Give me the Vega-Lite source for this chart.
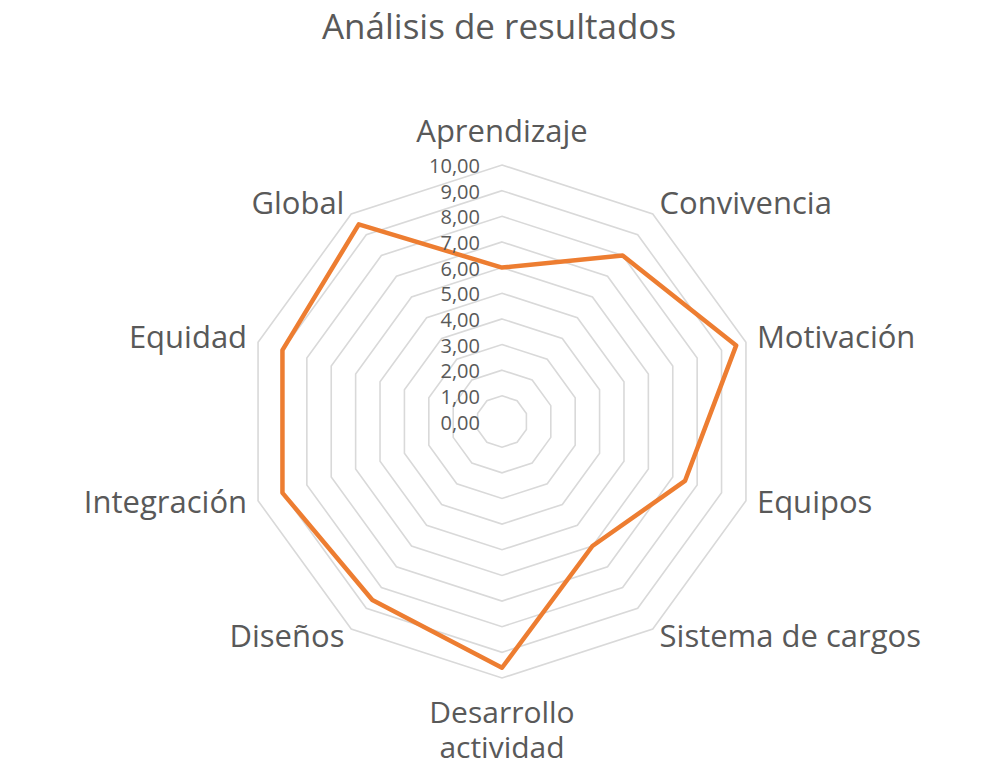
{
  "$schema": "https://vega.github.io/schema/vega-lite/v6.json",
  "width": 998,
  "height": 709,
  "autosize": {"type": "none"},
  "padding": {"left": 0, "right": 0, "top": 60, "bottom": 0},
  "background": "white",
  "config": {
    "view": {"stroke": null},
    "font": "Open Sans",
    "locale": {"number": {"decimal": ",", "thousands": ".", "grouping": [3], "currency": ["", " €"]}}
  },
  "title": {
    "text": "Análisis de resultados",
    "fontSize": 35,
    "font": "Open Sans",
    "fontWeight": "normal",
    "color": "#595959",
    "anchor": "middle",
    "offset": 14
  },
  "datasets": {
    "series": [
      {"idx": 0, "categoria": "Aprendizaje", "valor": 6.0},
      {"idx": 1, "categoria": "Convivencia", "valor": 8.0},
      {"idx": 2, "categoria": "Motivación", "valor": 9.6},
      {"idx": 3, "categoria": "Equipos", "valor": 7.5},
      {"idx": 4, "categoria": "Sistema de cargos", "valor": 6.0},
      {"idx": 5, "categoria": "Desarrollo actividad", "valor": 9.6},
      {"idx": 6, "categoria": "Diseños", "valor": 8.6},
      {"idx": 7, "categoria": "Integración", "valor": 9.0},
      {"idx": 8, "categoria": "Equidad", "valor": 9.0},
      {"idx": 9, "categoria": "Global", "valor": 9.5}
    ],
    "rings": [
      {"level": 1, "k": [0,1,2,3,4,5,6,7,8,9]},
      {"level": 2, "k": [0,1,2,3,4,5,6,7,8,9]},
      {"level": 3, "k": [0,1,2,3,4,5,6,7,8,9]},
      {"level": 4, "k": [0,1,2,3,4,5,6,7,8,9]},
      {"level": 5, "k": [0,1,2,3,4,5,6,7,8,9]},
      {"level": 6, "k": [0,1,2,3,4,5,6,7,8,9]},
      {"level": 7, "k": [0,1,2,3,4,5,6,7,8,9]},
      {"level": 8, "k": [0,1,2,3,4,5,6,7,8,9]},
      {"level": 9, "k": [0,1,2,3,4,5,6,7,8,9]},
      {"level": 10, "k": [0,1,2,3,4,5,6,7,8,9]}
    ],
    "ticks": [
      {"level": 0}, {"level": 1}, {"level": 2}, {"level": 3}, {"level": 4}, {"level": 5},
      {"level": 6}, {"level": 7}, {"level": 8}, {"level": 9}, {"level": 10}
    ]
  },
  "resolve": {"scale": {"x": "shared", "y": "shared"}},
  "layer": [
    {
      "data": {"name": "rings"},
      "transform": [
        {"flatten": ["k"]},
        {"calculate": "datum.level * sin(datum.k * PI / 5)", "as": "gx"},
        {"calculate": "datum.level * cos(datum.k * PI / 5)", "as": "gy"}
      ],
      "mark": {"type": "line", "interpolate": "linear-closed", "stroke": "#d9d9d9", "strokeWidth": 1.6},
      "encoding": {
        "x": {"field": "gx", "type": "quantitative", "scale": {"domain": [-19.571, 19.337], "nice": false, "zero": false}, "axis": null},
        "y": {"field": "gy", "type": "quantitative", "scale": {"domain": [-13.548, 14.094], "nice": false, "zero": false}, "axis": null},
        "detail": {"field": "level", "type": "nominal"},
        "order": {"field": "k", "type": "quantitative"}
      }
    },
    {
      "data": {"name": "series"},
      "transform": [
        {"calculate": "datum.valor * sin(datum.idx * PI / 5)", "as": "px"},
        {"calculate": "datum.valor * cos(datum.idx * PI / 5)", "as": "py"}
      ],
      "mark": {"type": "line", "interpolate": "linear-closed", "stroke": "#ED7D31", "strokeWidth": 4.5, "strokeJoin": "round"},
      "encoding": {
        "x": {"field": "px", "type": "quantitative"},
        "y": {"field": "py", "type": "quantitative"},
        "order": {"field": "idx", "type": "quantitative"}
      }
    },
    {
      "data": {"name": "ticks"},
      "transform": [
        {"calculate": "-0.86", "as": "tx"}
      ],
      "mark": {"type": "text", "align": "right", "baseline": "middle", "fontSize": 20, "color": "#595959", "dy": 2},
      "encoding": {
        "x": {"field": "tx", "type": "quantitative"},
        "y": {"field": "level", "type": "quantitative"},
        "text": {"field": "level", "type": "quantitative", "format": ".2f"}
      }
    },
    {
      "data": {"name": "series"},
      "transform": [
        {"filter": "datum.idx == 0"},
        {"calculate": "10.45 * sin(datum.idx * PI / 5)", "as": "lx"},
        {"calculate": "10.45 * cos(datum.idx * PI / 5)", "as": "ly"}
      ],
      "mark": {"type": "text", "align": "center", "baseline": "middle", "fontSize": 31, "color": "#595959", "dy": -20},
      "encoding": {
        "x": {"field": "lx", "type": "quantitative"},
        "y": {"field": "ly", "type": "quantitative"},
        "text": {"field": "categoria"}
      }
    },
    {
      "data": {"name": "series"},
      "transform": [
        {"filter": "datum.idx >= 1 && datum.idx <= 4"},
        {"calculate": "10.45 * sin(datum.idx * PI / 5)", "as": "lx"},
        {"calculate": "10.45 * cos(datum.idx * PI / 5)", "as": "ly"}
      ],
      "mark": {"type": "text", "align": "left", "baseline": "middle", "fontSize": 31, "color": "#595959"},
      "encoding": {
        "x": {"field": "lx", "type": "quantitative"},
        "y": {"field": "ly", "type": "quantitative"},
        "text": {"field": "categoria"}
      }
    },
    {
      "data": {"name": "series"},
      "transform": [
        {"filter": "datum.idx == 5"},
        {"calculate": "10.45 * sin(datum.idx * PI / 5)", "as": "lx"},
        {"calculate": "10.45 * cos(datum.idx * PI / 5)", "as": "ly"}
      ],
      "mark": {"type": "text", "align": "center", "baseline": "middle", "fontSize": 30, "color": "#595959", "dy": 24, "lineBreak": " ", "lineHeight": 35},
      "encoding": {
        "x": {"field": "lx", "type": "quantitative"},
        "y": {"field": "ly", "type": "quantitative"},
        "text": {"field": "categoria"}
      }
    },
    {
      "data": {"name": "series"},
      "transform": [
        {"filter": "datum.idx >= 6"},
        {"calculate": "10.45 * sin(datum.idx * PI / 5)", "as": "lx"},
        {"calculate": "10.45 * cos(datum.idx * PI / 5)", "as": "ly"}
      ],
      "mark": {"type": "text", "align": "right", "baseline": "middle", "fontSize": 31, "color": "#595959"},
      "encoding": {
        "x": {"field": "lx", "type": "quantitative"},
        "y": {"field": "ly", "type": "quantitative"},
        "text": {"field": "categoria"}
      }
    }
  ]
}
